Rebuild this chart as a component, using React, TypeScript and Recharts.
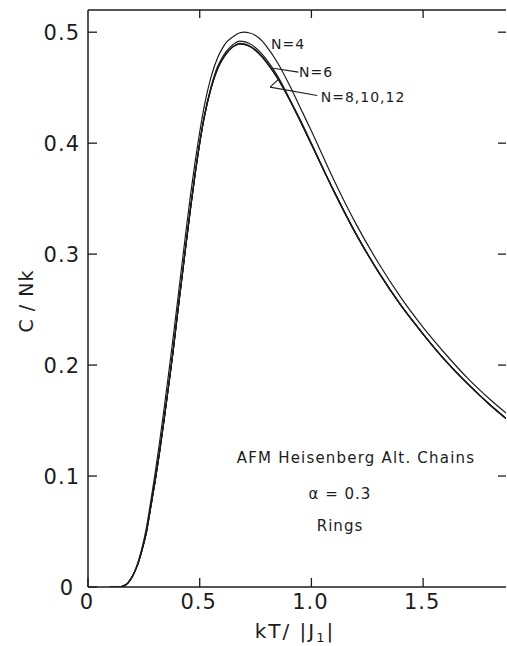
import { LineChart, Line, XAxis, YAxis, ReferenceLine, Customized } from "recharts";

// kT/|J1| sample points
const temps = [
  0.1, 0.14, 0.16, 0.18, 0.2, 0.22, 0.24, 0.26, 0.28, 0.3, 0.32, 0.34, 0.36, 0.38, 0.4, 0.42, 0.44, 0.46, 0.48,
  0.5, 0.52, 0.55, 0.58, 0.6, 0.62, 0.65, 0.68, 0.7, 0.72, 0.75, 0.78, 0.8, 0.85, 0.9, 0.95, 1.0, 1.1, 1.2,
  1.3, 1.4, 1.5, 1.6, 1.7, 1.8, 1.876,
];

// C/Nk for each ring size
const cN4 = [
  0, 0, 0.001, 0.004, 0.01, 0.02, 0.034, 0.052, 0.076, 0.102, 0.13, 0.16, 0.191, 0.223, 0.256, 0.29, 0.323, 0.355,
  0.384, 0.41, 0.433, 0.459, 0.477, 0.485, 0.491, 0.496, 0.4995, 0.5, 0.4995, 0.497, 0.492, 0.487, 0.472, 0.453,
  0.432, 0.411, 0.367, 0.327, 0.292, 0.261, 0.234, 0.21, 0.188, 0.169, 0.156,
];
const cN6 = [
  0, 0, 0.001, 0.004, 0.01, 0.019, 0.032, 0.048, 0.071, 0.095, 0.121, 0.15, 0.18, 0.211, 0.245, 0.278, 0.311, 0.343,
  0.373, 0.4, 0.424, 0.45, 0.469, 0.477, 0.483, 0.489, 0.492, 0.4915, 0.49, 0.486, 0.48, 0.475, 0.46, 0.441,
  0.421, 0.4, 0.357, 0.318, 0.284, 0.254, 0.228, 0.204, 0.183, 0.164, 0.151,
];
const cN8 = [
  0, 0, 0.001, 0.004, 0.01, 0.019, 0.032, 0.048, 0.071, 0.095, 0.121, 0.15, 0.18, 0.211, 0.245, 0.278, 0.311, 0.343,
  0.373, 0.4, 0.423, 0.449, 0.467, 0.475, 0.481, 0.487, 0.49, 0.4895, 0.488, 0.484, 0.478, 0.473, 0.458, 0.44,
  0.42, 0.399, 0.357, 0.318, 0.284, 0.254, 0.228, 0.204, 0.183, 0.164, 0.151,
];
const cN10 = [
  0, 0, 0.001, 0.004, 0.01, 0.019, 0.032, 0.048, 0.071, 0.095, 0.121, 0.15, 0.18, 0.211, 0.245, 0.278, 0.311, 0.343,
  0.373, 0.4, 0.423, 0.449, 0.467, 0.475, 0.481, 0.487, 0.4895, 0.489, 0.4875, 0.4835, 0.4775, 0.4725, 0.458, 0.44,
  0.42, 0.399, 0.357, 0.318, 0.284, 0.254, 0.228, 0.204, 0.183, 0.164, 0.151,
];
const cN12 = [
  0, 0, 0.001, 0.004, 0.01, 0.019, 0.032, 0.048, 0.071, 0.095, 0.121, 0.15, 0.18, 0.211, 0.245, 0.278, 0.311, 0.343,
  0.373, 0.4, 0.423, 0.449, 0.467, 0.475, 0.481, 0.487, 0.4895, 0.489, 0.4875, 0.4835, 0.4775, 0.4725, 0.458, 0.44,
  0.42, 0.399, 0.357, 0.318, 0.284, 0.254, 0.228, 0.204, 0.183, 0.164, 0.151,
];

const xTicks = [0, 0.5, 1.0, 1.5];
const topTicks = [0.5, 1.0, 1.5];
const yTicks = [0, 0.1, 0.2, 0.3, 0.4, 0.5];
const xMax = 1.871;
const yMax = 0.52;
const topTickLen = 0.0072; // about 8px in C/Nk units

const data = temps.map((t, i) => ({
  t,
  n4: cN4[i],
  n6: cN6[i],
  n8: cN8[i],
  n10: cN10[i],
  n12: cN12[i],
}));

const ink = "#1c1c1c";
const font = "'DejaVu Sans', sans-serif";
const tickStroke = { stroke: ink, strokeWidth: 1.3 };
const axisStroke = { stroke: ink, strokeWidth: 1.5 };

const fmt = (v: number) => (v === 0 ? "0" : v.toFixed(1));

// ticks point inward (negative tickSize), text is placed from the axis line
const BottomTick = ({ x, y, payload }: any) => (
  <text x={x - 1} y={y + 22} textAnchor="middle" fontSize={21} fontFamily={font} fill={ink} letterSpacing={1}>
    {fmt(payload.value)}
  </text>
);

const LeftTick = ({ x, y, payload }: any) =>
  payload.value === 0 ? (
    <text x={x - 15} y={y + 8} textAnchor="end" fontSize={21} fontFamily={font} fill={ink}>
      0
    </text>
  ) : (
    <text x={x - 8} y={y + 8} textAnchor="end" fontSize={21} fontFamily={font} fill={ink} letterSpacing={1}>
      {fmt(payload.value)}
    </text>
  );

const NoTick = () => <g />;

const Notes = () => (
  <g fontFamily={font} fill={ink}>
    <text x={26} y={301} fontSize={19} textAnchor="middle" letterSpacing={1} transform="rotate(-90 26 301)" dominantBaseline="central">
      C / Nk
    </text>
    <text x={295} y={638} fontSize={20} textAnchor="middle" letterSpacing={2}>
      kT/ |J<tspan fontSize={13} dy={4}>1</tspan>
      <tspan dy={-4}>|</tspan>
    </text>
    <text x={288} y={49} fontSize={14} textAnchor="middle" letterSpacing={1}>N=4</text>
    <text x={316} y={77} fontSize={14} textAnchor="middle" letterSpacing={1}>N=6</text>
    <text x={363} y={102} fontSize={14} textAnchor="middle" letterSpacing={1}>N=8,10,12</text>
    <text x={356} y={463} fontSize={15} textAnchor="middle" letterSpacing={1.2}>AFM Heisenberg Alt. Chains</text>
    <text x={340} y={499} fontSize={15} textAnchor="middle" letterSpacing={1}>α = 0.3</text>
    <text x={340} y={531} fontSize={15} textAnchor="middle" letterSpacing={1}>Rings</text>
  </g>
);

export default function App() {
  return (
    <div style={{ position: "absolute", left: 0, top: 0, background: "#fff" }}>
      <LineChart width={507} height={646} data={data} margin={{ top: 10, right: 0, bottom: 0, left: 0 }}>
        <XAxis
          xAxisId="b"
          dataKey="t"
          type="number"
          domain={[0, xMax]}
          allowDataOverflow
          ticks={xTicks}
          interval={0}
          height={59}
          tickSize={-9}
          tickMargin={9}
          tickLine={tickStroke}
          tick={<BottomTick />}
          axisLine={axisStroke}
        />
        <YAxis
          yAxisId="l"
          type="number"
          domain={[0, yMax]}
          allowDataOverflow
          ticks={yTicks}
          interval={0}
          width={88}
          tickSize={-9}
          tickMargin={9}
          tickLine={tickStroke}
          tick={<LeftTick />}
          axisLine={axisStroke}
        />
        <YAxis
          yAxisId="r"
          orientation="right"
          type="number"
          domain={[0, yMax]}
          allowDataOverflow
          ticks={[0.1, 0.2, 0.3, 0.4, 0.5]}
          interval={0}
          width={1}
          tickSize={-8}
          tickMargin={0}
          tickLine={tickStroke}
          tick={<NoTick />}
          axisLine={false}
        />
        {/* top frame with its inward ticks */}
        <ReferenceLine xAxisId="b" yAxisId="l" y={yMax} stroke={ink} strokeWidth={1.5} />
        {topTicks.map((v) => (
          <ReferenceLine
            key={v}
            xAxisId="b"
            yAxisId="l"
            segment={[{ x: v, y: yMax }, { x: v, y: yMax - topTickLen }]}
            stroke={ink}
            strokeWidth={1.3}
          />
        ))}
        <Line xAxisId="b" yAxisId="l" dataKey="n12" type="monotone" dot={false} stroke={ink} strokeWidth={1.2} isAnimationActive={false} />
        <Line xAxisId="b" yAxisId="l" dataKey="n10" type="monotone" dot={false} stroke={ink} strokeWidth={1.2} isAnimationActive={false} />
        <Line xAxisId="b" yAxisId="l" dataKey="n8" type="monotone" dot={false} stroke={ink} strokeWidth={1.2} isAnimationActive={false} />
        <Line xAxisId="b" yAxisId="l" dataKey="n6" type="monotone" dot={false} stroke={ink} strokeWidth={1.2} isAnimationActive={false} />
        <Line xAxisId="b" yAxisId="l" dataKey="n4" type="monotone" dot={false} stroke={ink} strokeWidth={1.2} isAnimationActive={false} />
        <ReferenceLine xAxisId="b" yAxisId="l" segment={[{ x: 0.829, y: 0.4675 }, { x: 0.942, y: 0.464 }]} stroke={ink} strokeWidth={1.1} />
        <ReferenceLine xAxisId="b" yAxisId="l" segment={[{ x: 0.815, y: 0.4505 }, { x: 0.852, y: 0.4575 }]} stroke={ink} strokeWidth={1.1} />
        <ReferenceLine xAxisId="b" yAxisId="l" segment={[{ x: 0.815, y: 0.4505 }, { x: 1.026, y: 0.443 }]} stroke={ink} strokeWidth={1.1} />
        <Customized component={Notes} />
      </LineChart>
    </div>
  );
}
